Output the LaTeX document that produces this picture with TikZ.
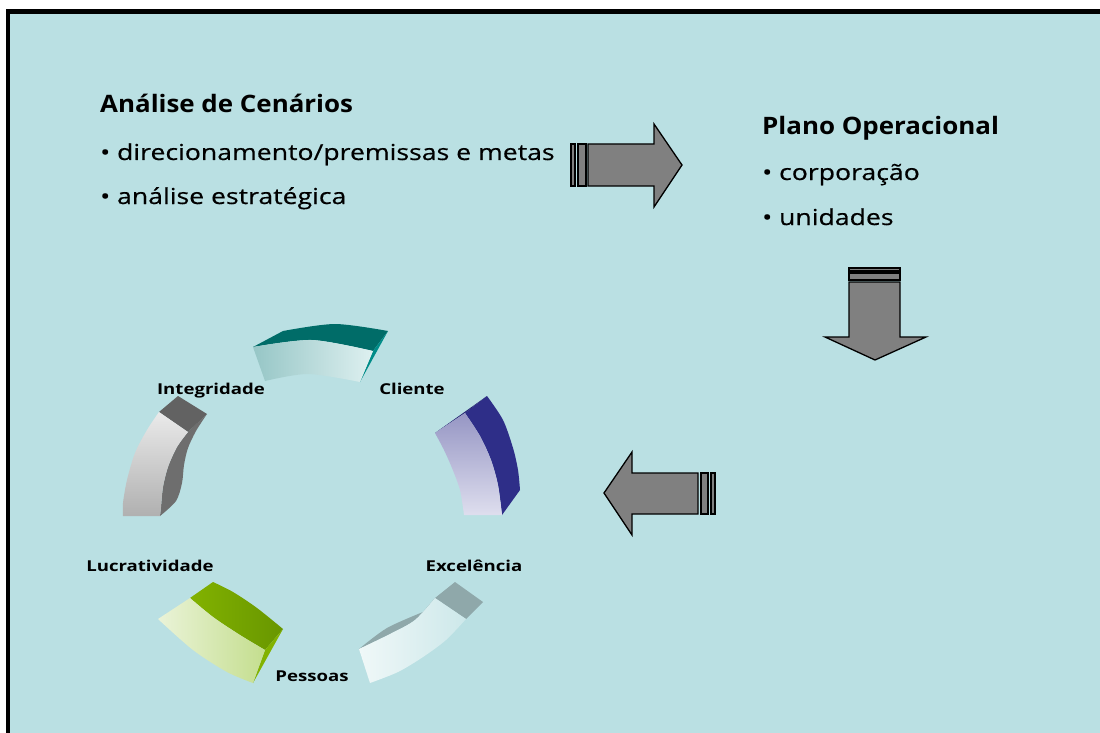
\documentclass[tikz,border=0pt]{standalone}
\usepackage{fontspec}
\setmainfont{Open Sans}
\newfontfamily\headfont[FakeStretch=1.08]{Open Sans}
\newfontfamily\itemfont[FakeStretch=1.21,FakeBold=0.5]{Open Sans}
\newfontfamily\labelfont[FakeStretch=1.24]{Open Sans}
\definecolor{panel}{RGB}{186,224,227}
\definecolor{arrowgray}{RGB}{128,128,128}
\definecolor{tealdark}{RGB}{0,108,104}
\definecolor{tealend}{RGB}{0,140,136}
\definecolor{teallight}{RGB}{222,240,240}
\definecolor{tealmid}{RGB}{150,198,198}
\definecolor{bluedark}{RGB}{46,46,136}
\definecolor{bluemid}{RGB}{150,150,196}
\definecolor{bluelight}{RGB}{222,222,238}
\definecolor{graydark}{RGB}{98,98,98}
\definecolor{grayside}{RGB}{110,110,110}
\definecolor{graylight}{RGB}{234,234,234}
\definecolor{graymid}{RGB}{176,176,176}
\definecolor{paledark}{RGB}{143,168,170}
\definecolor{palelight}{RGB}{240,248,248}
\definecolor{palemid}{RGB}{205,232,234}
\definecolor{greendark}{RGB}{104,150,0}
\definecolor{greenend}{RGB}{130,178,0}
\definecolor{greenlight}{RGB}{234,243,216}
\definecolor{greenmid}{RGB}{196,222,142}
\begin{document}
\begin{tikzpicture}[x=1pt,y=-1pt,
  blockarrow/.style={fill=arrowgray,draw=black,line width=1.3pt,line join=miter},
  heading/.style={anchor=base west,inner sep=0pt,font=\headfont\fontsize{24}{28}\selectfont\bfseries},
  item/.style={anchor=base west,inner sep=0pt,font=\itemfont\fontsize{22}{26}\selectfont},
  ringlabel/.style={anchor=base,inner sep=0pt,font=\labelfont\fontsize{15}{18}\selectfont\bfseries}]
\useasboundingbox (0,0) rectangle (1100,733);
\begin{scope}
\clip (0,0) rectangle (1100,733);
% panel with its heavy top and left border
\fill[white] (0,0) rectangle (1100,733);
\draw[fill=panel,line width=4.5pt] (8,11.5) rectangle (1120,760);
\end{scope}

% texts
\node[heading] (t1) at (100,113) {Análise de Cenários};
\node[item] (t2) at (100,160) {• direcionamento/premissas e metas};
\node[item] (t3) at (100,204) {• análise estratégica};
\node[heading] (p1) at (762,135) {Plano Operacional};
\node[item] (p2) at (762,180) {• corporação};
\node[item] (p3) at (762,225) {• unidades};

% block arrow to the right
\draw[blockarrow] (571,144) rectangle (575,186);
\draw[blockarrow] (578,144) rectangle (586,186);
\draw[blockarrow] (588,144) -- (654,144) -- (654,124) -- (682,165) -- (654,207) -- (654,186) -- (588,186) -- cycle;

% block arrow downwards
\draw[blockarrow] (849,268) rectangle (900,271);
\draw[blockarrow] (849,273) rectangle (900,280);
\draw[blockarrow] (849,282) -- (849,337) -- (825,337) -- (875,360) -- (926,337) -- (900,337) -- (900,282) -- cycle;

% block arrow to the left
\draw[blockarrow] (604,493) -- (632,452) -- (632,473) -- (698,473) -- (698,514) -- (632,514) -- (632,535) -- cycle;
\draw[blockarrow] (701,473) rectangle (708,514);
\draw[blockarrow] (711,473) rectangle (715,514);

% ring segment: teal (top)
\fill[tealdark] (253,347) -- (283,331) -- plot[smooth] coordinates {(283,331) (335,324) (388,331)} -- (373,351) -- plot[smooth] coordinates {(373,351) (312,340) (253,347)} -- cycle;
\fill[tealend] (373,351) -- (388,331) -- (360,382) -- cycle;
\shade[left color=tealmid,right color=teallight] (253,347) -- plot[smooth] coordinates {(253,347) (312,340) (373,351)} -- (360,382) -- plot[smooth] coordinates {(360,382) (308,374) (265,381)} -- cycle;

% ring segment: blue (right)
\fill[bluedark] (465,413) -- (487,396) -- plot[smooth] coordinates {(487,396) (503,420) (513,448) (518,470) (520,490)} -- (502,515) -- plot[smooth] coordinates {(502,515) (498,485) (491,460) (480,436) (465,413)} -- cycle;
\fill[bluedark!85!black] (435,433) -- (487,396) -- (465,413) -- cycle;
\shade[top color=bluemid,bottom color=bluelight] (435,433) -- (465,413) -- plot[smooth] coordinates {(465,413) (480,436) (491,460) (498,485) (502,515)} -- (464,515) -- plot[smooth] coordinates {(464,515) (460,490) (452,468) (444,450) (435,433)} -- cycle;

% ring segment: gray (upper left)
\fill[grayside] (188,432) -- (207,414) -- plot[smooth] coordinates {(207,414) (196,431) (188,448) (184,465) (182,483) (176,501) (160,516)} -- plot[smooth] coordinates {(160,516) (161,507) (163,487) (168,467) (177,447) (188,432)} -- cycle;
\fill[graydark] (159,412) -- (178,396) -- (207,414) -- (188,432) -- cycle;
\shade[top color=graylight,bottom color=graymid] (159,412) -- (188,432) -- plot[smooth] coordinates {(188,432) (177,447) (168,467) (163,487) (161,507) (160,516)} -- (123,516) -- plot[smooth] coordinates {(123,516) (123,503) (127,480) (135,453) (147,430) (159,412)} -- cycle;

% ring segment: pale (lower right)
\fill[paledark] (359,649) -- plot[smooth] coordinates {(359,649) (387,628) (423,612)} -- (435,598) -- plot[smooth] coordinates {(435,598) (415,620) (390,634) (359,649)} -- cycle;
\fill[paledark] (435,598) -- (455,582) -- (483,602) -- (466,619) -- cycle;
\shade[shading angle=45,left color=palelight,right color=palemid] (435,598) -- (466,619) -- plot[smooth] coordinates {(466,619) (446,640) (423,657) (398,672) (370,683)} -- (359,649) -- plot[smooth] coordinates {(359,649) (390,634) (415,620) (435,598)} -- cycle;

% ring segment: green (lower left)
\shade[left color=greenend,right color=greendark] (190,598) -- (213,582) -- plot[smooth] coordinates {(213,582) (233,592) (257,608) (283,629)} -- (265,650) -- plot[smooth] coordinates {(265,650) (240,635) (213,617) (190,598)} -- cycle;
\fill[greenend] (265,650) -- (283,629) -- (253,683) -- cycle;
\shade[shading angle=-60,left color=greenlight,right color=greenmid] (158,619) -- (190,598) -- plot[smooth] coordinates {(190,598) (213,617) (240,635) (265,650)} -- (253,683) -- plot[smooth] coordinates {(253,683) (227,672) (193,650) (158,619)} -- cycle;

% ring labels
\node[ringlabel] (integ) at (211,394) {Integridade};
\node[ringlabel] (clien) at (412,394) {Cliente};
\node[ringlabel] (excel) at (474,571) {Excelência};
\node[ringlabel] (lucra) at (150,571) {Lucratividade};
\node[ringlabel] (pesso) at (312,681) {Pessoas};
\end{tikzpicture}
\end{document}
